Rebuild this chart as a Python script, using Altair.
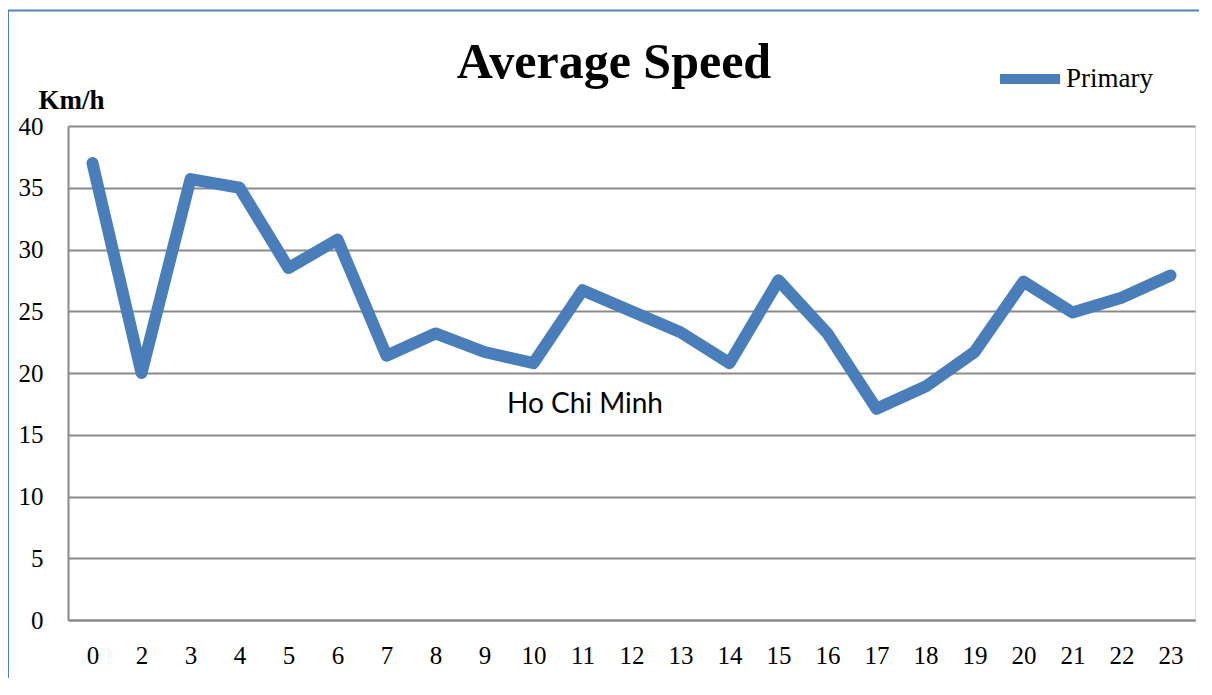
import altair as alt
import pandas as pd

hours = ["0", "2", "3", "4", "5", "6", "7", "8", "9", "10", "11", "12",
         "13", "14", "15", "16", "17", "18", "19", "20", "21", "22", "23"]
speeds = [37.0, 20.0, 35.7, 35.0, 28.5, 30.8, 21.4, 23.2, 21.7, 20.8, 26.7, 25.0,
          23.3, 20.8, 27.5, 23.2, 17.1, 18.9, 21.7, 27.4, 24.9, 26.1, 27.9]
series = ["Primary"] * len(hours)
y_ticks = [0, 5, 10, 15, 20, 25, 30, 35, 40]
title_text = ["Average Speed"]
note_text = ["Ho Chi Minh"]

df = pd.DataFrame({"hour": hours, "speed": speeds, "series": series})

SERIF = "Liberation Serif"
GRID = "#8a8a8a"
BLUE = "#4a7ebb"

line = alt.Chart(df).mark_line(
    strokeWidth=12, strokeCap="round", strokeJoin="round", color=BLUE
).encode(
    x=alt.X("hour:N", sort=hours,
            scale=alt.Scale(type="point", padding=0.5),
            axis=alt.Axis(title=None, labelAngle=0, ticks=False, grid=False,
                          domain=True, domainColor=GRID, domainWidth=2,
                          labelFont=SERIF, labelFontSize=25, labelColor="black",
                          labelPadding=23)),
    y=alt.Y("speed:Q", scale=alt.Scale(domain=[0, 40], nice=False),
            axis=alt.Axis(values=y_ticks, title="Km/h", titleAngle=0,
                          titleAlign="left", titleBaseline="alphabetic",
                          titleX=-30, titleY=-18, titleFont=SERIF,
                          titleFontSize=27, titleFontWeight="bold", titleColor="black",
                          ticks=False, grid=True, gridColor=GRID, gridWidth=2,
                          domain=True, domainColor=GRID, domainWidth=2,
                          labelFont=SERIF, labelFontSize=25, labelColor="black",
                          labelPadding=25)),
    stroke=alt.Stroke("series:N", scale=alt.Scale(range=[BLUE]),
                      legend=alt.Legend(title=None, orient="none",
                                        legendX=927, legendY=-82,
                                        symbolType="stroke", symbolSize=3600,
                                        symbolStrokeWidth=10, symbolStrokeColor=BLUE,
                                        labelFont=SERIF, labelFontSize=27,
                                        labelColor="black", labelOffset=1,
                                        padding=0)),
)

note = alt.Chart(pd.DataFrame({"label": note_text})).mark_text(
    font="Lato", fontSize=28, color="black", align="center", baseline="alphabetic"
).encode(x=alt.value(517), y=alt.value(287), text="label:N")

title = alt.Chart(pd.DataFrame({"label": title_text})).mark_text(
    font=SERIF, fontSize=50, fontWeight="bold", color="black",
    align="center", baseline="alphabetic"
).encode(x=alt.value(546), y=alt.value(-48), text="label:N")

border = alt.Chart(pd.DataFrame({"b": [0]})).mark_rect(
    fill=None, stroke="#4f81bd", strokeWidth=2
).encode(x=alt.value(-60), x2=alt.value(1300), y=alt.value(-115.5), y2=alt.value(700))

chart = alt.layer(border, line, note, title).properties(
    width=1127, height=494,
    padding={"left": 60, "top": 118, "right": 4, "bottom": 58},
    autosize=alt.AutoSizeParams(type="none"),
).configure_view(stroke=None).configure(background="white")

chart.save("out.html", embed_options={"renderer": "svg", "actions": False})
